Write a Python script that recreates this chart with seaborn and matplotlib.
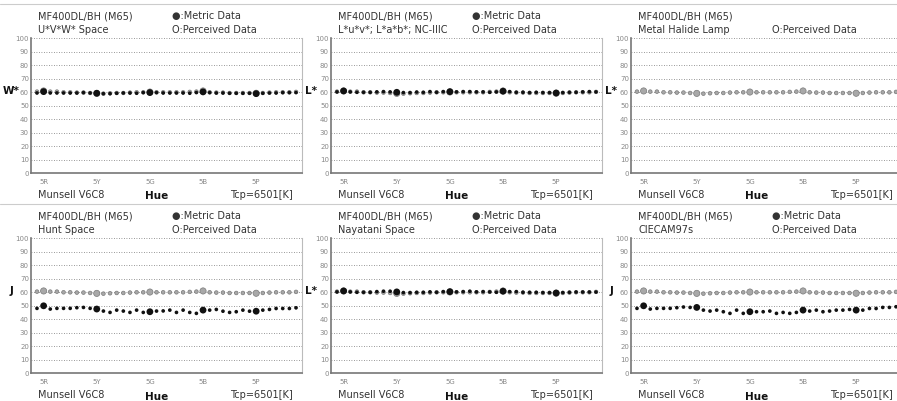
import numpy as np
import pandas as pd
import matplotlib
matplotlib.use("Agg")
import matplotlib.pyplot as plt
import seaborn as sns

# ---- data -------------------------------------------------------------
hue_tick_labels = ["5R", "5Y", "5G", "5B", "5P"]
principal_idx = [1, 9, 17, 25, 33]
hue_index = list(range(40))

perceived = [60.5, 61.0, 60.5, 60.5, 60.0, 60.0, 59.8, 59.8, 59.5, 59.2,
             59.0, 59.3, 59.5, 59.5, 59.8, 60.0, 60.0, 60.2, 60.0, 60.0,
             60.0, 60.0, 60.0, 60.3, 60.5, 61.0, 60.0, 59.8, 59.8, 59.5,
             59.5, 59.5, 59.5, 59.3, 59.5, 59.8, 60.0, 60.0, 60.0, 60.3]

metric_uvw = [59.5, 60.5, 59.5, 59.5, 59.5, 59.5, 59.5, 59.8, 59.5, 59.3,
              59.0, 59.0, 59.3, 59.5, 59.5, 59.3, 59.8, 59.8, 59.8, 59.5,
              59.5, 59.5, 59.5, 59.3, 59.8, 60.3, 59.8, 59.5, 59.5, 59.3,
              59.3, 59.3, 59.3, 59.0, 59.3, 59.5, 59.5, 59.8, 59.8, 59.8]

metric_lab = [60.3, 61.0, 60.3, 60.0, 60.0, 60.0, 60.3, 60.5, 60.3, 60.0,
              59.8, 59.8, 60.2, 60.0, 60.5, 60.0, 60.5, 60.5, 60.3, 60.5,
              60.5, 60.3, 60.3, 60.0, 60.3, 60.8, 60.5, 60.0, 60.0, 59.8,
              60.0, 59.8, 59.8, 59.5, 59.8, 60.0, 60.0, 60.3, 60.5, 60.3]

metric_hunt = [48.1, 50.0, 47.6, 48.1, 48.1, 48.1, 48.6, 48.8, 48.1, 47.6,
               46.1, 45.1, 46.8, 46.1, 45.1, 46.8, 45.1, 45.6, 46.1, 46.2,
               46.8, 45.1, 46.8, 45.1, 44.4, 46.8, 46.8, 47.3, 46.0, 45.1,
               45.6, 46.8, 46.0, 46.0, 46.8, 47.3, 48.0, 48.0, 48.0, 48.5]

metric_nayatani = [60.3, 61.0, 60.3, 60.0, 60.0, 60.0, 60.5, 60.8, 60.8, 60.3,
                   59.8, 59.8, 60.0, 60.0, 60.3, 60.0, 60.5, 60.5, 60.3, 60.5,
                   60.8, 60.3, 60.5, 60.3, 60.0, 60.8, 60.5, 60.5, 60.0, 60.0,
                   60.0, 59.8, 59.8, 59.5, 59.8, 60.0, 60.2, 60.2, 60.2, 60.2]

metric_ciecam = [48.1, 50.0, 47.6, 48.1, 48.1, 48.1, 48.6, 49.1, 48.8, 48.8,
                 46.8, 46.1, 46.8, 45.6, 44.4, 46.8, 44.4, 45.6, 45.6, 45.6,
                 46.1, 44.4, 45.1, 44.4, 45.1, 46.8, 46.1, 46.8, 45.6, 46.1,
                 46.8, 46.8, 47.3, 46.8, 46.8, 48.0, 48.0, 48.8, 48.8, 49.3]

space_names = ["U*V*W* Space", "L*u*v*; L*a*b*; NC-IIIC", "Metal Halide Lamp",
               "Hunt Space", "Nayatani Space", "CIECAM97s"]
y_labels = ["W*", "L*", "L*", "J", "L*", "J"]
metric_series = [metric_uvw, metric_lab, None, metric_hunt, metric_nayatani, metric_ciecam]

# ---- style ------------------------------------------------------------
sns.set_style("white")
plt.rcParams["font.family"] = ["DejaVu Sans"]

W, H = 897, 401
fig = plt.figure(figsize=(W / 100, H / 100), dpi=100)

def fx(px):
    return px / W

def fy(py):
    return 1 - py / H

txt_color = "#333333"
big_flag = [1 if i in principal_idx else 0 for i in hue_index]

for k in range(6):
    r, c = divmod(k, 3)
    ox, oy = c * 300, r * 200
    ax = fig.add_axes([fx(ox + 31), fy(oy + 173.3), 271 / W, 135 / H])

    dfp = pd.DataFrame({"hue": hue_index, "val": perceived, "big": big_flag})
    sns.scatterplot(data=dfp, x="hue", y="val", size="big", sizes={0: 7, 1: 20},
                    color="#a8a8a8", edgecolor="#7a7a7a", linewidth=0.5,
                    legend=False, ax=ax, zorder=3)
    if metric_series[k] is not None:
        dfm = pd.DataFrame({"hue": hue_index, "val": metric_series[k], "big": big_flag})
        sns.scatterplot(data=dfm, x="hue", y="val", size="big", sizes={0: 7, 1: 24},
                        color="#111111", linewidth=0, legend=False, ax=ax, zorder=4)

    ax.set_xlim(-0.9, 39.9)
    ax.set_ylim(0, 100)
    ax.set_yticks(range(0, 101, 10))
    ax.set_xticks(principal_idx)
    ax.set_xticklabels(hue_tick_labels)
    ax.set_xlabel("")
    ax.set_ylabel(y_labels[k], rotation=0, fontsize=7.5, fontweight="bold",
                  color="#111111")
    ax.yaxis.set_label_coords(-0.072, 0.57)
    ax.tick_params(axis="x", length=0, pad=4, labelsize=5, labelcolor="#888888")
    ax.tick_params(axis="y", length=0, pad=1.5, labelsize=5, labelcolor="#888888")
    ax.yaxis.grid(True, linestyle=(0, (1, 2)), color="#777777", linewidth=0.6)
    ax.xaxis.grid(False)
    ax.spines["top"].set_visible(False)
    for s in ["left", "bottom"]:
        ax.spines[s].set_color("#777777")
        ax.spines[s].set_linewidth(1.2)
    ax.spines["right"].set_color("#bbbbbb")
    ax.spines["right"].set_linewidth(0.8)

    # header texts
    fig.text(fx(ox + 38), fy(oy + 16.5), "MF400DL/BH (M65)", fontsize=7,
             color=txt_color, va="center", ha="left")
    fig.text(fx(ox + 38), fy(oy + 30), space_names[k], fontsize=7,
             color=txt_color, va="center", ha="left")
    if metric_series[k] is not None:
        fig.text(fx(ox + 172), fy(oy + 16.5), "●:Metric Data", fontsize=7,
                 color=txt_color, va="center", ha="left")
    fig.text(fx(ox + 172), fy(oy + 30), "O:Perceived Data", fontsize=7,
             color=txt_color, va="center", ha="left")

    # footer texts
    fig.text(fx(ox + 38), fy(oy + 195.5), "Munsell V6C8", fontsize=7,
             color=txt_color, va="center", ha="left")
    fig.text(fx(ox + 157), fy(oy + 196.5), "Hue", fontsize=7.5, fontweight="bold",
             color="#111111", va="center", ha="center")
    fig.text(fx(ox + 293), fy(oy + 195.5), "Tcp=6501[K]", fontsize=7,
             color=txt_color, va="center", ha="right")

# panel separator lines
for yy in (4, 204):
    fig.add_artist(plt.Line2D([0, 1], [fy(yy), fy(yy)], color="#cccccc",
                              linewidth=0.8, transform=fig.transFigure))

fig.savefig("out.png", dpi=100)
